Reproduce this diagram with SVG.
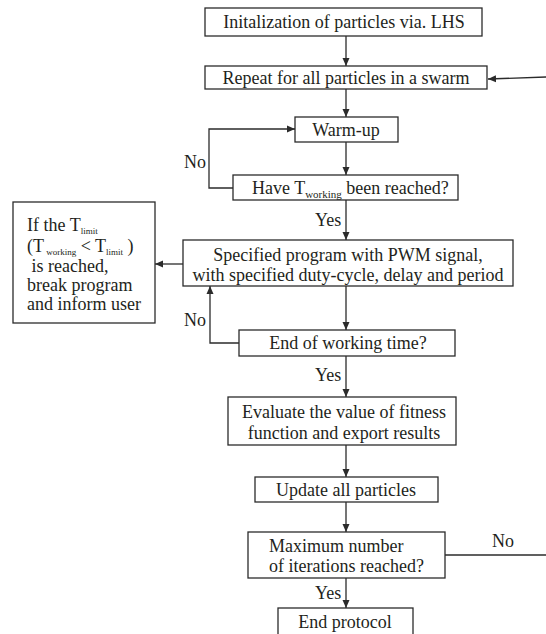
<svg xmlns="http://www.w3.org/2000/svg" width="546" height="634" viewBox="0 0 546 634">
<defs>
<marker id="ah" markerWidth="9" markerHeight="9" refX="8" refY="4.5" orient="auto" markerUnits="userSpaceOnUse">
<path d="M0,1 L8,4.5 L0,8 Z" fill="#2b2b2b"/>
</marker>
<style>
rect.box{fill:#fff;stroke:#2b2b2b;stroke-width:1.3}
.ln{fill:none;stroke:#2b2b2b;stroke-width:1.3}
</style>
</defs>
<rect width="546" height="634" fill="#fff"/>
<g font-family="'Liberation Serif', 'DejaVu Serif', serif" font-size="18" fill="#231f20">
<g id="connectors">
<line class="ln" x1="346" y1="36" x2="346" y2="66" marker-end="url(#ah)"/>
<line class="ln" x1="546" y1="77" x2="488" y2="79" marker-end="url(#ah)"/>
<line class="ln" x1="346" y1="89" x2="346" y2="117" marker-end="url(#ah)"/>
<line class="ln" x1="346" y1="142" x2="346" y2="175" marker-end="url(#ah)"/>
<path class="ln" d="M233,188 H209 V129 H295" marker-end="url(#ah)"/>
<line class="ln" x1="346" y1="200" x2="346" y2="240" marker-end="url(#ah)"/>
<line class="ln" x1="183" y1="264" x2="155" y2="264" marker-end="url(#ah)"/>
<line class="ln" x1="346" y1="286" x2="346" y2="330" marker-end="url(#ah)"/>
<path class="ln" d="M239,343 H210 V286" marker-end="url(#ah)"/>
<line class="ln" x1="346" y1="356" x2="346" y2="397" marker-end="url(#ah)"/>
<line class="ln" x1="346" y1="445" x2="346" y2="477" marker-end="url(#ah)"/>
<line class="ln" x1="346" y1="502" x2="346" y2="532" marker-end="url(#ah)"/>
<line class="ln" x1="445" y1="555" x2="546" y2="555"/>
<line class="ln" x1="346" y1="578" x2="346" y2="608" marker-end="url(#ah)"/>
<text x="184" y="168">No</text>
<text x="315" y="226">Yes</text>
<text x="184" y="326">No</text>
<text x="315" y="381">Yes</text>
<text x="492" y="547">No</text>
<text x="315" y="599">Yes</text>
</g>
<g id="init">
<rect class="box" x="205" y="8" width="277" height="28"/>
<text text-anchor="middle" x="344" y="28">Initalization of particles via. LHS</text>
</g>
<g id="repeat">
<rect class="box" x="205" y="66" width="282" height="23"/>
<text text-anchor="middle" x="346" y="84">Repeat for all particles in a swarm</text>
</g>
<g id="warmup">
<rect class="box" x="295" y="117" width="103" height="25"/>
<text text-anchor="middle" x="346" y="136">Warm-up</text>
</g>
<g id="have">
<rect class="box" x="233" y="175" width="225" height="25"/>
<text x="252" y="194">Have T<tspan font-size="11" dy="4">working</tspan><tspan dy="-4"> been reached?</tspan></text>
</g>
<g id="specified">
<rect class="box" x="183" y="240" width="330" height="46"/>
<text text-anchor="middle" x="348" y="261">Specified program with PWM signal,</text>
<text text-anchor="middle" x="348" y="281">with specified duty-cycle, delay and period</text>
</g>
<g id="limit">
<rect class="box" x="13" y="202" width="142" height="121"/>
<text x="27" y="231">If the T<tspan font-size="9" dy="2.5">limit</tspan></text>
<text x="27" y="252">(T<tspan font-size="9" dy="2.5"> working</tspan><tspan dy="-2.5"> &lt; T</tspan><tspan font-size="9" dy="2.5">limit</tspan><tspan dy="-2.5" xml:space="preserve"> )</tspan></text>
<text x="27" y="272" xml:space="preserve"> is reached,</text>
<text x="27" y="291">break program</text>
<text x="27" y="310">and inform user</text>
</g>
<g id="endwork">
<rect class="box" x="239" y="330" width="216" height="26"/>
<text text-anchor="middle" x="348" y="349">End of working time?</text>
</g>
<g id="evaluate">
<rect class="box" x="228" y="397" width="228" height="48"/>
<text text-anchor="middle" x="344" y="418">Evaluate the value of fitness</text>
<text text-anchor="middle" x="344" y="439">function and export results</text>
</g>
<g id="update">
<rect class="box" x="255" y="477" width="183" height="25"/>
<text text-anchor="middle" x="346" y="496">Update all particles</text>
</g>
<g id="maximum">
<rect class="box" x="248" y="532" width="197" height="46"/>
<text x="269" y="552">Maximum number</text>
<text x="269" y="572">of iterations reached?</text>
</g>
<g id="endprotocol">
<rect class="box" x="278" y="608" width="135" height="40"/>
<text text-anchor="middle" x="345" y="628">End protocol</text>
</g>
</g>
</svg>
